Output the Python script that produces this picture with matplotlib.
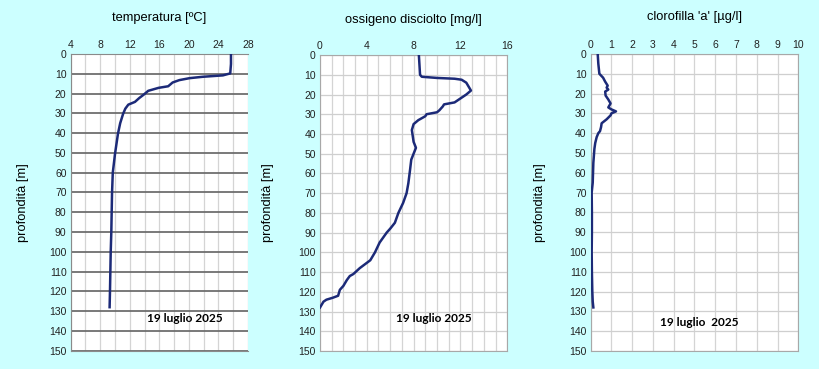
import matplotlib.pyplot as plt
import numpy as np

plt.rcParams['font.family'] = ['Liberation Sans', 'DejaVu Sans']

# temperature profile [degC] vs depth [m]
temp_depth = [0, 5, 9.8, 10.8, 11.5, 12.2, 13.2, 14.4, 16.3, 17.1, 18.6, 20.5, 22.2,
              24.2, 25.6, 27.6, 30.2, 35, 40.3, 50.5, 60, 70, 80, 90, 100, 110, 120, 128]
temp_vals = [25.7, 25.7, 25.6, 24.6, 21.9, 20.1, 18.7, 17.8, 17.2, 15.9, 14.5, 13.9, 13.3,
             12.7, 11.8, 11.4, 11.1, 10.7, 10.4, 10.0, 9.7, 9.6, 9.55, 9.5, 9.42, 9.37, 9.32, 9.27]

# dissolved oxygen [mg/l] vs depth [m]
oxy_depth = [0, 5, 10, 11, 11.6, 12, 12.5, 14, 17, 18, 20, 22, 24, 25, 26, 28, 29, 30, 31,
             33, 35, 38, 40, 44, 47, 50, 53, 58, 65, 70, 75, 80, 85, 88, 90, 95, 100, 104,
             106, 108, 111, 112, 114, 117, 119, 122, 123, 124, 125, 127, 128]
oxy_vals = [8.45, 8.5, 8.55, 8.7, 10.0, 11.5, 12.1, 12.5, 12.8, 12.9, 12.5, 12.0, 11.5, 10.6,
            10.5, 10.2, 10.0, 9.1, 9.0, 8.4, 8.0, 7.85, 7.9, 8.0, 8.2, 8.0, 7.8, 7.7, 7.55,
            7.4, 7.1, 6.7, 6.4, 6.0, 5.7, 5.1, 4.7, 4.3, 3.85, 3.4, 2.85, 2.55, 2.3, 2.0,
            1.7, 1.55, 1.1, 0.55, 0.3, 0.1, 0.0]

# chlorophyll a [ug/l] vs depth [m]
chl_depth = [0, 5, 10, 12, 14, 16, 17, 18, 19, 21, 23, 25, 27, 28, 29, 30, 31, 33, 35, 37,
             39, 40, 42, 45, 48, 55, 65, 70, 80, 90, 100, 110, 120, 125, 128]
chl_vals = [0.34, 0.37, 0.42, 0.6, 0.7, 0.82, 0.77, 0.85, 0.7, 0.72, 0.85, 0.96, 0.85, 1.0,
            1.22, 1.0, 0.96, 0.77, 0.53, 0.5, 0.45, 0.37, 0.29, 0.22, 0.18, 0.13, 0.1, 0.05,
            0.06, 0.06, 0.05, 0.06, 0.08, 0.1, 0.13]

titles = ['temperatura [\u00baC]', 'ossigeno disciolto [mg/l]', "clorofilla 'a' [\u00b5g/l]"]
dates = ['19 luglio 2025', '19 luglio 2025', '19 luglio  2025']

bg = '#ccffff'
line_col = '#1c2a78'

fig = plt.figure(figsize=(8.2, 3.69), dpi=100, facecolor=bg)

positions = [[0.0862, 0.0496, 0.2162, 0.804],
             [0.3902, 0.0488, 0.2284, 0.802],
             [0.7203, 0.0488, 0.2533, 0.805]]
xlims = [(4, 28), (0, 16), (0, 10)]
xticks = [np.arange(4, 29, 4), np.arange(0, 17, 4), np.arange(0, 11, 1)]
xminor = [np.arange(4, 29, 2), np.arange(0, 17, 1), None]
data = [(temp_vals, temp_depth), (oxy_vals, oxy_depth), (chl_vals, chl_depth)]
title_y = [0.95, 0.946, 0.953]
ylab_x = [-0.235, -0.246, -0.215]
date_pos = [(185, 318), (434, 318), (699, 322)]

for i in range(3):
    ax = fig.add_axes(positions[i])
    ax.set_facecolor('white')
    x, y = data[i]
    ax.plot(x, y, color=line_col, lw=1.8, zorder=3)
    ax.set_xlim(*xlims[i])
    ax.set_ylim(150, 0)
    ax.set_yticks(np.arange(0, 151, 10))
    ax.set_xticks(xticks[i])
    if xminor[i] is not None:
        ax.set_xticks(xminor[i], minor=True)
    ax.xaxis.tick_top()
    ax.tick_params(axis='both', which='both', length=0, labelsize=7.5, pad=3,
                   labelcolor='#222222')
    ax.grid(True, axis='x', which='both', color='#d4d4d4', lw=0.9, zorder=1)
    if i == 0:
        ax.grid(True, axis='y', color='#6e6e6e', lw=1.3, zorder=1)
        for s in ['left', 'top', 'bottom']:
            ax.spines[s].set_color('#8a8a8a')
        ax.spines['right'].set_visible(False)
    else:
        ax.grid(True, axis='y', color='#cfcfcf', lw=0.9, zorder=1)
        for s in ax.spines.values():
            s.set_color('#a8a8a8')
    ax.set_ylabel('profondit\u00e0 [m]', fontsize=9.3)
    ax.yaxis.set_label_coords(ylab_x[i], 0.5)
    fig.text(positions[i][0] + positions[i][2] / 2, title_y[i], titles[i],
             ha='center', va='center', fontsize=9.3)
    dx, dy = date_pos[i]
    fig.text(dx / 820, 1 - dy / 369, dates[i], ha='center', va='center',
             fontsize=8.6, fontweight='bold', family='Lato')

fig.savefig('out.png', dpi=100, facecolor=bg)
